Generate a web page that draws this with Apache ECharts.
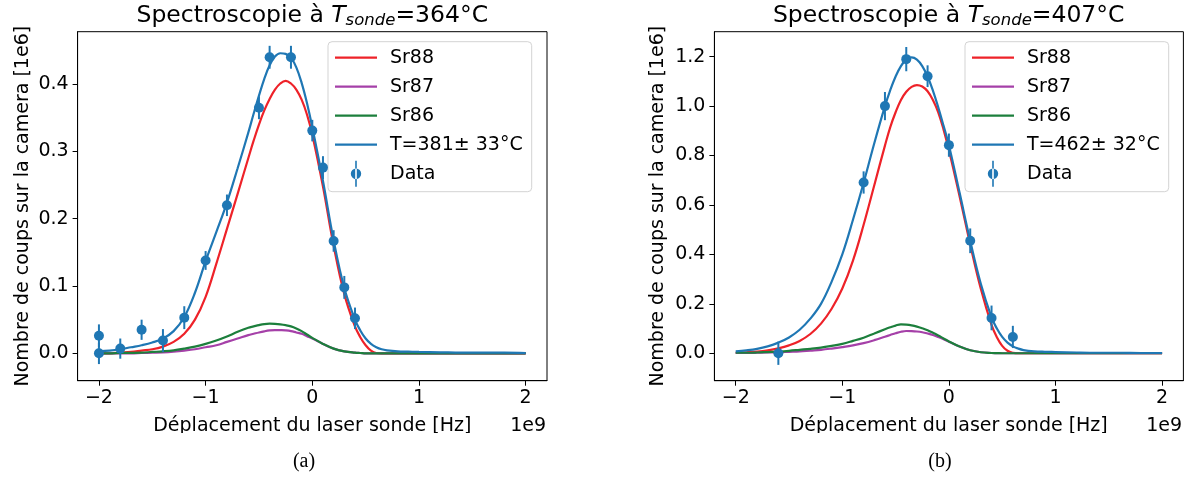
<!DOCTYPE html>
<html>
<head>
<meta charset="utf-8">
<script src="https://cdn.jsdelivr.net/npm/echarts@6/dist/echarts.min.js"></script>
<style>
html,body{margin:0;padding:0;background:#fff;}
#chart{width:1189px;height:477px;}
</style>
</head>
<body>
<div id="chart"></div>
<script>
// ---------- DATA ----------
const fitX = [-2.0,-1.9,-1.8,-1.7,-1.6,-1.5,-1.4,-1.3,-1.2,-1.1,-1.0,-0.9,-0.8,-0.7,-0.6,
  -0.55,-0.5,-0.45,-0.4,-0.35,-0.3,-0.25,-0.2,-0.15,-0.1,-0.05,
  0.0,0.1,0.2,0.3,0.4,0.45,0.5,0.55,0.6,0.65,0.7,0.8,0.9,1.0,1.2,1.4,1.6,1.8,2.0];

// Plot (a) : T_sonde = 364°C
const sr88A = [0,0,0.001,0.002,0.004,0.006,0.010,0.017,0.029,0.050,0.084,0.133,0.185,0.237,0.290,
  0.316,0.340,0.361,0.378,0.392,0.401,0.405,0.401,0.392,0.377,0.355,
  0.325,0.248,0.160,0.088,0.040,0.024,0.012,0.004,0.0005,0,0,0,0,0,0,0,0,0,0];
const sr87A = [0,0,0,0,0.0005,0.001,0.0015,0.0025,0.004,0.006,0.009,0.012,0.017,0.022,0.027,
  0.029,0.031,0.0327,0.034,0.0346,0.0344,0.034,0.033,0.031,0.029,0.0255,
  0.022,0.014,0.007,0.003,0.001,0.0005,0,0,0,0,0,0,0,0,0,0,0,0,0];
const sr86A = [0,0,0.0005,0.0007,0.001,0.002,0.003,0.0045,0.007,0.010,0.014,0.019,0.025,0.032,0.038,
  0.040,0.042,0.0435,0.044,0.0437,0.043,0.0418,0.040,0.037,0.033,0.028,
  0.023,0.014,0.007,0.003,0.001,0.0005,0,0,0,0,0,0,0,0,0,0,0,0,0];
const totA  = [0.003,0.004,0.006,0.009,0.012,0.016,0.022,0.033,0.054,0.090,0.137,0.180,0.224,0.275,0.328,
  0.356,0.383,0.408,0.428,0.441,0.446,0.445,0.439,0.425,0.402,0.372,
  0.336,0.256,0.168,0.097,0.050,0.034,0.022,0.014,0.009,0.006,0.0045,0.003,0.0025,0.002,0.0015,0.001,0.001,0.001,0.0005];
const dataXA = [-2,-2,-1.8,-1.6,-1.4,-1.2,-1.0,-0.8,-0.5,-0.4,-0.2,0,0.1,0.2,0.3,0.4];
const dataYA = [0.026,0.0,0.007,0.035,0.019,0.053,0.138,0.220,0.365,0.440,0.440,0.331,0.276,0.167,0.098,0.052];
const errA   = [0.017,0.016,0.015,0.015,0.017,0.017,0.014,0.016,0.017,0.017,0.017,0.016,0.017,0.016,0.017,0.016];

// Plot (b) : T_sonde = 407°C
const sr88B = [0.002,0.004,0.007,0.012,0.020,0.032,0.050,0.078,0.120,0.180,0.262,0.375,0.520,0.680,0.840,
  0.915,0.975,1.025,1.058,1.078,1.085,1.079,1.060,1.025,0.975,0.905,
  0.822,0.635,0.440,0.260,0.115,0.065,0.030,0.010,0.002,0,0,0,0,0,0,0,0,0,0];
const sr87B = [0.001,0.001,0.002,0.003,0.004,0.006,0.008,0.011,0.014,0.019,0.025,0.032,0.041,0.053,0.067,
  0.074,0.081,0.087,0.090,0.0895,0.088,0.085,0.080,0.074,0.066,0.057,
  0.047,0.027,0.012,0.004,0.001,0.0005,0,0,0,0,0,0,0,0,0,0,0,0,0];
const sr86B = [0.002,0.002,0.003,0.005,0.007,0.010,0.014,0.018,0.023,0.030,0.038,0.050,0.063,0.080,0.097,
  0.105,0.112,0.117,0.116,0.113,0.108,0.101,0.093,0.083,0.072,0.060,
  0.048,0.027,0.012,0.004,0.001,0.0005,0,0,0,0,0,0,0,0,0,0,0,0,0];
const totB  = [0.008,0.012,0.018,0.028,0.043,0.064,0.095,0.140,0.200,0.290,0.400,0.540,0.690,0.850,1.000,
  1.065,1.120,1.162,1.188,1.197,1.188,1.162,1.120,1.063,0.995,0.920,
  0.842,0.650,0.455,0.280,0.145,0.100,0.066,0.043,0.028,0.019,0.013,0.008,0.006,0.005,0.003,0.002,0.002,0.001,0.001];
const dataXB = [-1.6,-0.8,-0.6,-0.4,-0.2,0,0.2,0.4,0.6];
const dataYB = [0.0,0.691,1.000,1.190,1.121,0.842,0.455,0.143,0.066];
const errB   = [0.047,0.045,0.057,0.049,0.044,0.047,0.050,0.050,0.045];

const xTicks  = [-2,-1,0,1,2];
const yTicksA = [0,0.1,0.2,0.3,0.4];
const yTicksB = [0,0.2,0.4,0.6,0.8,1.0,1.2];

const namesA = ['Sr88','Sr87','Sr86','T=381\u00b1 33\u00b0C','Data'];
const namesB = ['Sr88','Sr87','Sr86','T=462\u00b1 32\u00b0C','Data'];
const titleA = {temp:'364\u00b0C'};
const titleB = {temp:'407\u00b0C'};
const yLabel = 'Nombre de coups sur la camera [1e6]';
const xLabel = 'D\u00e9placement du laser sonde [Hz]';

// ---------- STYLE ----------
const C_RED = '#ee2229', C_PUR = '#a540a8', C_GRN = '#1c7f3c', C_BLU = '#1f77b4';
const FONT = 'DejaVu Sans';
const FS = 19;

function pairs(xs, ys){ return xs.map((x,i)=>[x, ys[i]]); }
function triples(xs, ys, es){ return xs.map((x,i)=>[x, ys[i], es[i]]); }
const minusFmt = v => (v < 0 ? '\u2212' : '') + Math.abs(v);
const fmt1 = v => (v < 0 ? '\u2212' : '') + Math.abs(v).toFixed(1);

const lineIcon = 'path://M0,0L0,0M0,11.9L42,11.9L42,14.1L0,14.1ZM42,26L42,26';
const dataIcon = 'path://M4.2,0L5.8,0L5.8,26L4.2,26ZM-0.2,13A5.2,5.2,0,1,0,10.2,13A5.2,5.2,0,1,0,-0.2,13Z';

function makeLines(gi, ys, name, color, z){
  return {type:'line', name:name, xAxisIndex:gi, yAxisIndex:gi, data:pairs(fitX, ys),
    showSymbol:false, symbol:'none', smooth:0.4, z:z,
    lineStyle:{color:color, width:2.2}, itemStyle:{color:color}, silent:true};
}
function errSeries(gi, xs, ys, es){
  return {type:'custom', xAxisIndex:gi, yAxisIndex:gi, data:triples(xs, ys, es), z:8, silent:true,
    encode:{x:0, y:1},
    renderItem:function(params, api){
      const x = api.value(0), y = api.value(1), e = api.value(2);
      const p1 = api.coord([x, y - e]), p2 = api.coord([x, y + e]);
      return {type:'line', shape:{x1:p1[0], y1:p1[1], x2:p2[0], y2:p2[1]}, style:{stroke:C_BLU, lineWidth:2}};
    }};
}
function dataSeries(gi, xs, ys){
  return {type:'scatter', name:'Data', xAxisIndex:gi, yAxisIndex:gi, data:pairs(xs, ys),
    symbol:'circle', symbolSize:10, itemStyle:{color:C_BLU, opacity:1}, z:9, silent:true};
}
function xAxisCfg(gi){
  return {type:'value', gridIndex:gi, min:-2.2, max:2.2,
    axisLine:{show:true, onZero:false, lineStyle:{color:'#000', width:1}},
    axisTick:{show:true, inside:false, length:5, customValues:xTicks, lineStyle:{color:'#000', width:1}},
    axisLabel:{customValues:xTicks, formatter:minusFmt, color:'#000', fontSize:FS, fontFamily:FONT, margin:8},
    splitLine:{show:false}};
}
function yAxisCfg(gi, mn, mx, ticks){
  return {type:'value', gridIndex:gi, min:mn, max:mx,
    axisLine:{show:true, onZero:false, lineStyle:{color:'#000', width:1}},
    axisTick:{show:true, inside:false, length:5, customValues:ticks, lineStyle:{color:'#000', width:1}},
    axisLabel:{customValues:ticks, formatter:fmt1, color:'#000', fontSize:FS, fontFamily:FONT, margin:9},
    splitLine:{show:false}};
}
function legendCfg(left, names){
  return {left:left, top:41.7, orient:'vertical', itemWidth:42, itemHeight:26, itemGap:3,
    padding:[3,9,5,7], backgroundColor:'rgba(255,255,255,0.8)', borderColor:'#d3d3d3', borderWidth:1, borderRadius:4,
    selectedMode:false,
    textStyle:{fontSize:FS, fontFamily:FONT, color:'#000', padding:[0,0,0,8]},
    data:[
      {name:names[0], icon:lineIcon, itemStyle:{color:C_RED, borderWidth:0}},
      {name:names[1], icon:lineIcon, itemStyle:{color:C_PUR, borderWidth:0}},
      {name:names[2], icon:lineIcon, itemStyle:{color:C_GRN, borderWidth:0}},
      {name:names[3], icon:lineIcon, itemStyle:{color:C_BLU, borderWidth:0}},
      {name:names[4], icon:dataIcon, itemStyle:{color:C_BLU, borderWidth:0}}
    ]};
}
function titleText(cx, t){
  return {type:'text', x:cx, y:16, z:20, style:{
    text:'{a|Spectroscopie \u00e0 }{i|T}{s|sonde}{a|=' + t.temp + '}',
    align:'center', verticalAlign:'middle',
    rich:{
      a:{fontSize:23.5, fontFamily:FONT, fill:'#000'},
      i:{fontSize:23.5, fontFamily:FONT, fontStyle:'italic', fill:'#000'},
      s:{fontSize:16.5, fontFamily:FONT, fontStyle:'italic', fill:'#000', padding:[10,0,0,0]}
    }}};
}
function plainText(x, y, txt, opts){
  return Object.assign({type:'text', x:x, y:y, z:20, style:{text:txt, fontSize:FS, fontFamily:FONT, fill:'#000',
    align:'center', verticalAlign:'middle'}}, opts || {});
}

const chart = echarts.init(document.getElementById('chart'), null, {renderer:'canvas'});
chart.setOption({
  animation:false,
  backgroundColor:'#ffffff',
  grid:[
    {left:77.6, top:31.7, width:469.4, height:349, show:true, borderColor:'#000', borderWidth:1, backgroundColor:'transparent', containLabel:false},
    {left:714.4, top:31.7, width:469, height:349, show:true, borderColor:'#000', borderWidth:1, backgroundColor:'transparent', containLabel:false}
  ],
  xAxis:[xAxisCfg(0), xAxisCfg(1)],
  yAxis:[yAxisCfg(0, -0.0407, 0.478, yTicksA), yAxisCfg(1, -0.111, 1.301, yTicksB)],
  legend:[legendCfg(328, namesA), legendCfg(965, namesB)],
  series:[
    makeLines(0, sr88A, namesA[0], C_RED, 2),
    makeLines(0, sr87A, namesA[1], C_PUR, 3),
    makeLines(0, sr86A, namesA[2], C_GRN, 4),
    makeLines(0, totA,  namesA[3], C_BLU, 5),
    errSeries(0, dataXA, dataYA, errA),
    dataSeries(0, dataXA, dataYA),
    makeLines(1, sr88B, namesB[0], C_RED, 2),
    makeLines(1, sr87B, namesB[1], C_PUR, 3),
    makeLines(1, sr86B, namesB[2], C_GRN, 4),
    makeLines(1, totB,  namesB[3], C_BLU, 5),
    errSeries(1, dataXB, dataYB, errB),
    dataSeries(1, dataXB, dataYB)
  ],
  graphic:[
    titleText(312.3, titleA),
    titleText(948.7, titleB),
    plainText(22.7, 206.2, yLabel, {rotation:Math.PI/2}),
    plainText(658.3, 206.2, yLabel, {rotation:Math.PI/2}),
    plainText(312.3, 426, xLabel),
    plainText(948.7, 426, xLabel),
    {type:'text', x:546, y:426, z:20, style:{text:'1e9', fontSize:FS, fontFamily:FONT, fill:'#000', align:'right', verticalAlign:'middle'}},
    {type:'text', x:1182, y:426, z:20, style:{text:'1e9', fontSize:FS, fontFamily:FONT, fill:'#000', align:'right', verticalAlign:'middle'}},
    {type:'rect', z:30, shape:{x:0, y:433, width:1189, height:44}, style:{fill:'#ffffff'}},
    {type:'text', x:304, y:462, z:31, style:{text:'(a)', fontSize:20, fontFamily:'Liberation Serif', fill:'#000', align:'center', verticalAlign:'middle'}},
    {type:'text', x:940, y:462, z:31, style:{text:'(b)', fontSize:20, fontFamily:'Liberation Serif', fill:'#000', align:'center', verticalAlign:'middle'}}
  ]
});
</script>
</body>
</html>
